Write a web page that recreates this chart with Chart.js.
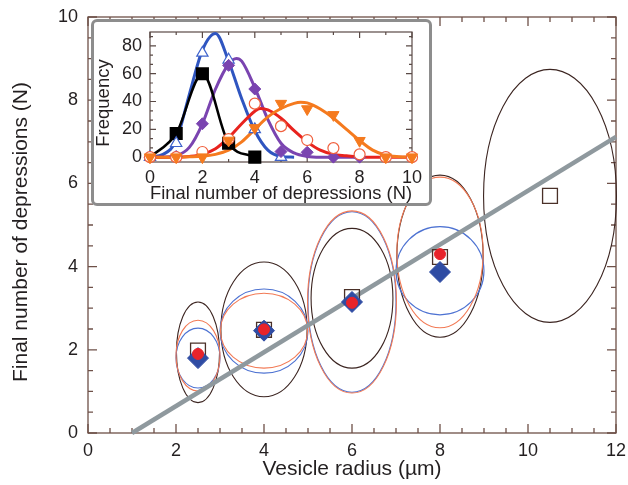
<!DOCTYPE html>
<html><head><meta charset="utf-8">
<script src="https://cdn.jsdelivr.net/npm/chart.js@4"></script>
<style>
html,body{margin:0;padding:0;background:#fff;}
#wrap{position:relative;width:628px;height:485px;overflow:hidden;}
#main{position:absolute;left:0;top:0;}
#inset{position:absolute;left:91px;top:19px;width:341px;height:187px;box-sizing:border-box;border:3px solid #8d8d8d;border-radius:6px;background:#fff;}
#ic{position:absolute;left:0;top:0;}
</style></head><body>
<div id="wrap">
<canvas id="main" width="628" height="485"></canvas>
<div id="inset"><canvas id="ic" width="335" height="181"></canvas></div>
</div>
<script>
// ---------- main chart data ----------
const radius = [2.5, 4, 6, 8, 10.5];
const squareN = [1.98, 2.48, 3.27, 4.23, 5.7];
const circleRadius = [2.5, 4, 6, 8];
const circleN = [1.9, 2.49, 3.13, 4.3];
const diamondN = [1.8, 2.46, 3.15, 3.87];
const fitRadius = [1, 12];
const fitN = [0, 7.12];
// ellipses: centre N, half-width (µm), half-height (N)
const blackEllN = [1.94, 2.49, 3.24, 4.25, 5.7];
const blackEllDx = [0.49, 0.98, 0.93, 0.98, 1.51];
const blackEllDy = [1.21, 1.62, 1.68, 1.95, 3.04];
const orangeEllN = [1.86, 2.46, 3.15, 4.34];
const orangeEllDx = [0.5, 0.99, 1.01, 0.98];
const orangeEllDy = [0.85, 0.9, 2.19, 1.81];
const blueEllN = [1.8, 2.45, 3.15, 3.9];
const blueEllDx = [0.5, 1.0, 1.0, 1.0];
const blueEllDy = [0.72, 1.01, 2.17, 1.06];
const xTicksMain = [0, 2, 4, 6, 8, 10, 12];
const yTicksMain = [0, 2, 4, 6, 8, 10];
const xMinorMain = [0.5,1,1.5,2.5,3,3.5,4.5,5,5.5,6.5,7,7.5,8.5,9,9.5,10.5,11,11.5];
const yMinorMain = [0.5,1,1.5,2.5,3,3.5,4.5,5,5.5,6.5,7,7.5,8.5,9,9.5];

// ---------- inset data ----------
const blackX = [0, 1, 2, 3, 4];
const blackY = [0, 17, 60, 10, 0];
const triX = [0, 1, 2, 3, 4, 5];
const triY = [0, 10, 75, 70, 20, 0];
const blueFitX = [0, 0.5, 1, 1.5, 2, 2.5, 3, 3.5, 4, 4.5, 5, 5.5];
const blueFitY = [0, 2, 12, 45, 77, 89, 69, 42, 19, 5, 0.5, 0];
const purpleX = [0, 1, 2, 3, 4, 5, 6, 7, 8];
const purpleY = [0, 0.5, 24, 66, 49, 4, 3.5, 0, 0];
const purpleFitX = [0, 0.5, 1, 1.5, 2, 2.5, 3, 3.3, 3.5, 4, 4.5, 5, 5.5, 6, 6.5, 7, 8];
const purpleFitY = [0, 0, 1, 7, 24, 49, 67, 71, 69, 50, 27, 10, 3, 0.5, 0, 0, 0];
const redX = [0, 1, 2, 3, 4, 5, 6, 7, 8, 9, 10];
const redY = [0, 0, 3.7, 13, 38.5, 22.3, 12.3, 6.5, 2, 0, 0];
const redFitX = [0, 1, 1.5, 2, 2.5, 3, 3.5, 4, 4.2, 4.5, 5, 5.5, 6, 6.5, 7, 7.5, 8, 10];
const redFitY = [0, 0, 0.5, 2, 6, 14, 24, 33, 35, 34, 28, 19, 11, 5, 2, 1, 0, 0];
const orangeX = [0, 1, 2, 3, 4, 5, 6, 7, 8, 9, 10];
const orangeY = [0, 0, 0, 12, 21, 38.5, 34.6, 30.4, 11.8, 0, 0];
const orangeFitX = [0, 1, 1.5, 2, 2.5, 3, 3.5, 4, 4.5, 5, 5.5, 5.75, 6, 6.5, 7, 7.5, 8, 8.5, 9, 9.5, 10];
const orangeFitY = [0, 0, 0.2, 0.6, 2, 5, 11, 20, 29, 35, 38.7, 39.5, 39, 34.6, 28, 20, 12, 5, 1.4, 0.3, 0];
const xTicksInset = [0, 2, 4, 6, 8, 10];
const yTicksInset = [0, 20, 40, 60, 80];
const xMinorInset = [1, 3, 5, 7, 9];
const yMinorInset = [20/3, 40/3, 80/3, 100/3, 140/3, 160/3, 200/3, 220/3, 260/3];

const FONT = "'Liberation Sans', Arial, Helvetica, sans-serif";
const TXT = '#231f20';
const pts = (xs, ys) => xs.map((x, i) => ({x: x, y: ys[i]}));

function framePlugin(id, o) {
  return {
    id: id,
    beforeDatasetsDraw(chart) {
      const {ctx, chartArea: a, scales: {x, y}} = chart;
      ctx.save();
      ctx.strokeStyle = o.color;
      ctx.lineWidth = o.width;
      ctx.strokeRect(a.left, a.top, a.right - a.left, a.bottom - a.top);
      ctx.beginPath();
      const tx = (v, L) => { const p = x.getPixelForValue(v);
        ctx.moveTo(p, a.bottom); ctx.lineTo(p, a.bottom - L);
        ctx.moveTo(p, a.top); ctx.lineTo(p, a.top + L); };
      const ty = (v, L) => { const p = y.getPixelForValue(v);
        ctx.moveTo(a.left, p); ctx.lineTo(a.left + L, p);
        ctx.moveTo(a.right, p); ctx.lineTo(a.right - L, p); };
      o.xMajor.forEach(v => tx(v, o.major));
      o.xMinor.forEach(v => tx(v, o.minor));
      o.yMajor.forEach(v => ty(v, o.major));
      o.yMinor.forEach(v => ty(v, o.minor));
      ctx.stroke();
      ctx.restore();
    }
  };
}

// rotated y-axis title, centred at a given point of the canvas
function yTitlePlugin(id, text, size, cx, cy) {
  return {
    id: id,
    afterDraw(chart) {
      const ctx = chart.ctx;
      ctx.save();
      ctx.translate(cx, cy);
      ctx.rotate(-Math.PI / 2);
      ctx.fillStyle = TXT;
      ctx.font = size + 'px ' + FONT;
      ctx.textAlign = 'center';
      ctx.textBaseline = 'middle';
      ctx.fillText(text, 0, 0);
      ctx.restore();
    }
  };
}

const ellipsePlugin = {
  id: 'ellipses',
  beforeDatasetsDraw(chart) {
    const {ctx, scales: {x, y}} = chart;
    const groups = [
      {cx: radius, cy: blackEllN, dx: blackEllDx, dy: blackEllDy, c: '#3b2420'},
      {cx: circleRadius, cy: blueEllN, dx: blueEllDx, dy: blueEllDy, c: '#4d72d2'},
      {cx: circleRadius, cy: orangeEllN, dx: orangeEllDx, dy: orangeEllDy, c: '#f27a55'}
    ];
    ctx.save();
    ctx.lineWidth = 1.1;
    groups.forEach(g => {
      ctx.strokeStyle = g.c;
      g.cy.forEach((cy, i) => {
        const px = x.getPixelForValue(g.cx[i]);
        const py = y.getPixelForValue(cy);
        const rx = Math.abs(x.getPixelForValue(g.cx[i] + g.dx[i]) - px);
        const ry = Math.abs(y.getPixelForValue(cy + g.dy[i]) - py);
        ctx.beginPath();
        ctx.ellipse(px, py, rx, ry, 0, 0, Math.PI * 2);
        ctx.stroke();
      });
    });
    ctx.restore();
  }
};

const fixX = h => s => { s.height = h; s.paddingLeft = 0; s.paddingRight = 0; };
const fixY = w => s => { s.width = w; s.paddingTop = 0; s.paddingBottom = 0; };

new Chart(document.getElementById('main'), {
  type: 'scatter',
  data: {
    datasets: [
      {data: pts(circleRadius, circleN), pointStyle: 'circle', pointRadius: 5.5,
       backgroundColor: '#e8232a', borderColor: '#e8232a', borderWidth: 1, clip: false},
      {data: pts(circleRadius, diamondN), pointStyle: 'rectRot', pointRadius: 10.5,
       backgroundColor: '#2f4ca3', borderColor: '#2f4ca3', borderWidth: 1, clip: false},
      {data: pts(radius, squareN), pointStyle: 'rect', pointRadius: 10.5,
       backgroundColor: 'rgba(255,255,255,0)', borderColor: '#4a3028', borderWidth: 1.3, clip: false},
      {data: pts(fitRadius, fitN), showLine: true, pointRadius: 0,
       borderColor: '#8f999e', borderWidth: 4.5, clip: false}
    ]
  },
  options: {
    responsive: false, animation: false,
    layout: {padding: {left: 0, top: 17, right: 12, bottom: 0}},
    plugins: {legend: {display: false}, tooltip: {enabled: false}},
    scales: {
      x: {
        type: 'linear', min: 0, max: 12,
        afterFit: fixX(52),
        afterBuildTicks(s) { s.ticks = xTicksMain.map(v => ({value: v})); },
        grid: {display: false, drawTicks: false, tickLength: 0},
        border: {display: false},
        ticks: {autoSkip: false, maxRotation: 0, padding: 7, color: TXT,
                font: {family: FONT, size: 18}},
        title: {display: true, text: 'Vesicle radius (µm)', color: TXT,
                font: {family: FONT, size: 21}, padding: {top: 0, bottom: 3}}
      },
      y: {
        type: 'linear', min: 0, max: 10,
        afterFit: fixY(88),
        afterBuildTicks(s) { s.ticks = yTicksMain.map(v => ({value: v})); },
        grid: {display: false, drawTicks: false, tickLength: 0},
        border: {display: false},
        ticks: {autoSkip: false, padding: 10, color: TXT,
                font: {family: FONT, size: 18}},
        title: {display: false}
      }
    }
  },
  plugins: [framePlugin('frameMain', {color: '#6e5048', width: 1.3, major: 9, minor: 5,
    xMajor: xTicksMain, xMinor: xMinorMain, yMajor: yTicksMain, yMinor: yMinorMain}),
    ellipsePlugin,
    yTitlePlugin('yTitleMain', 'Final number of depressions (N)', 21, 21, 232)]
});

new Chart(document.getElementById('ic'), {
  type: 'scatter',
  data: {
    datasets: [
      {data: pts(orangeX, orangeY), pointStyle: 'triangle', rotation: 180, pointRadius: 6.5,
       backgroundColor: '#f57a1e', borderColor: '#f57a1e', borderWidth: 1, clip: false},
      {data: pts(redX, redY), pointStyle: 'circle', pointRadius: 5.5,
       backgroundColor: '#ffffff', borderColor: '#f0603e', borderWidth: 1.2, clip: false},
      {data: pts(purpleX, purpleY), pointStyle: 'rectRot', pointRadius: 6,
       backgroundColor: '#7a44b0', borderColor: '#7a44b0', borderWidth: 1, clip: false},
      {data: pts(triX, triY), pointStyle: 'triangle', pointRadius: 6.5,
       backgroundColor: '#ffffff', borderColor: '#3f63cc', borderWidth: 1.2, clip: false},
      {data: pts(blackX, blackY), showLine: true, cubicInterpolationMode: 'monotone',
       pointStyle: 'rect', pointRadius: [0, 7.5, 7.5, 7.5, 7.5],
       backgroundColor: '#000', borderColor: '#000', borderWidth: 2.5, clip: false},
      {data: pts(orangeFitX, orangeFitY), showLine: true, cubicInterpolationMode: 'monotone',
       pointRadius: 0, borderColor: '#f57a1e', borderWidth: 3, clip: false},
      {data: pts(redFitX, redFitY), showLine: true, cubicInterpolationMode: 'monotone',
       pointRadius: 0, borderColor: '#e8231e', borderWidth: 3, clip: false},
      {data: pts(purpleFitX, purpleFitY), showLine: true, cubicInterpolationMode: 'monotone',
       pointRadius: 0, borderColor: '#7a44b0', borderWidth: 3, clip: false},
      {data: pts(blueFitX, blueFitY), showLine: true, cubicInterpolationMode: 'monotone',
       pointRadius: 0, borderColor: '#2f55c0', borderWidth: 3, clip: false}
    ]
  },
  options: {
    responsive: false, animation: false,
    layout: {padding: {left: 0, top: 5, right: 17, bottom: 0}},
    plugins: {legend: {display: false}, tooltip: {enabled: false}},
    scales: {
      x: {
        type: 'linear', min: 0, max: 10,
        afterFit: fixX(41),
        afterBuildTicks(s) { s.ticks = xTicksInset.map(v => ({value: v})); },
        grid: {display: false, drawTicks: false, tickLength: 0},
        border: {display: false},
        ticks: {autoSkip: false, maxRotation: 0, padding: 5, color: TXT,
                font: {family: FONT, size: 18}},
        title: {display: true, text: 'Final number of depressions (N)', color: TXT,
                font: {family: FONT, size: 18.5, lineHeight: 1.0}, padding: {top: 0, bottom: 0}}
      },
      y: {
        type: 'linear', min: -3.5, max: 90,
        afterFit: fixY(56),
        afterBuildTicks(s) { s.ticks = yTicksInset.map(v => ({value: v})); },
        grid: {display: false, drawTicks: false, tickLength: 0},
        border: {display: false},
        ticks: {autoSkip: false, padding: 8, color: TXT,
                font: {family: FONT, size: 18}},
        title: {display: false}
      }
    }
  },
  plugins: [framePlugin('frameInset', {color: '#5a4a46', width: 1.2, major: 6, minor: 3,
    xMajor: xTicksInset, xMinor: xMinorInset, yMajor: yTicksInset, yMinor: yMinorInset}),
    yTitlePlugin('yTitleInset', 'Frequency', 18.5, 10, 81)]
});
</script>
</body></html>
